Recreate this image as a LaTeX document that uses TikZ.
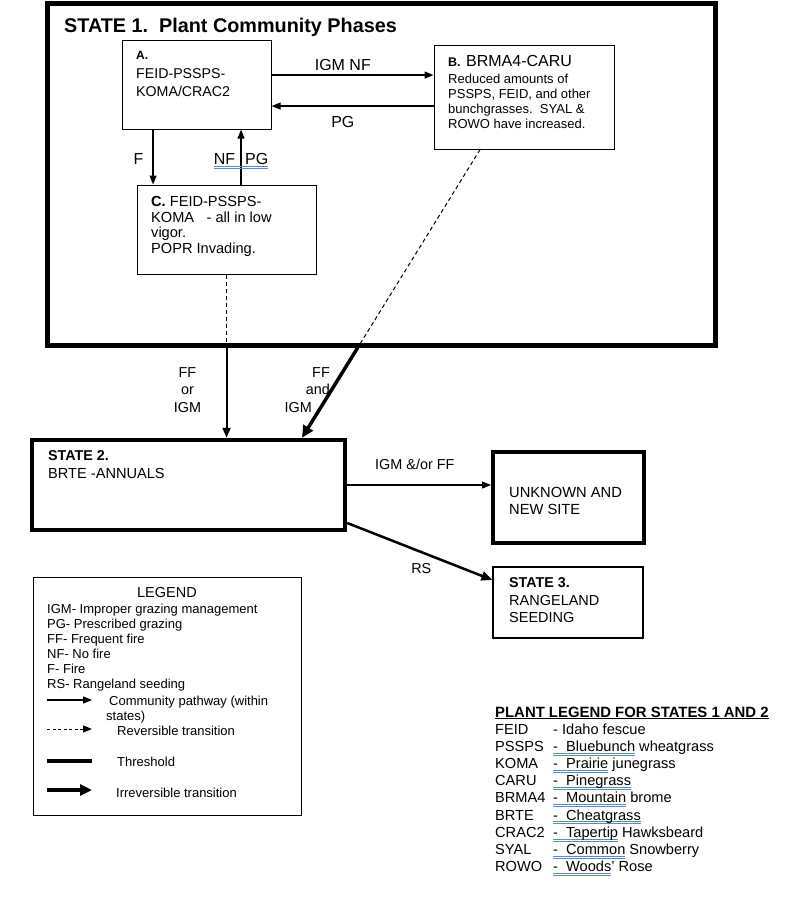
\documentclass[tikz,border=0pt]{standalone}
\usepackage{fontspec}
\setmainfont{Liberation Sans}
\usetikzlibrary{calc}
\usetikzlibrary{arrows.meta}

\definecolor{spellblue}{HTML}{5B8AC8}

% blue double mark under a word, and a plain underline
\newcommand{\spell}[1]{\setbox0=\hbox{#1}\rlap{\color{spellblue}\rule[-2pt]{\wd0}{0.6pt}}\rlap{\color{spellblue}\rule[-3.9pt]{\wd0}{0.6pt}}\box0\relax}
\newcommand{\titleline}[1]{\setbox0=\hbox{#1}\rlap{\rule[-2.4pt]{\wd0}{1.1pt}}\box0\relax}

\begin{document}
\begin{tikzpicture}[x=1pt, y=-1pt,
    phasebox/.style={draw, line width=1.1pt, inner sep=0pt, anchor=north west},
    boxtext/.style={anchor=north west, inner sep=0pt, align=left, font=\fontsize{14.2}{18.5}\selectfont},
    lbl/.style={inner sep=0pt, font=\fontsize{14.4}{17.5}\selectfont},
    biglbl/.style={inner sep=0pt, font=\fontsize{16}{18}\selectfont},
    legtext/.style={inner sep=0pt, align=left, font=\fontsize{13}{15.1}\selectfont},
    plantrow/.style={inner sep=0pt, anchor=base west, font=\fontsize{14.6}{17}\selectfont},
    pathway/.style={line width=1.2pt, -{Triangle[length=9pt, width=7pt]}},
    reversible/.style={line width=1pt, dash pattern=on 4pt off 3pt},
    irreversible/.style={line width=3.5pt, -{Triangle[length=12pt, width=11pt]}}
]
    \useasboundingbox (0,0) rectangle (800,898);

    % State 1 with its phases
    \node[phasebox, line width=5pt, minimum width=668pt, minimum height=342pt] (S1) at (44.5,0.5) {};
    \node[anchor=base west, inner sep=0pt, font=\bfseries\fontsize{19.8}{22}\selectfont] (S1title) at (64,32) {STATE 1.\ \ Plant Community Phases};

    \node[phasebox, minimum width=149pt, minimum height=89pt] (A) at (121.5,39.5) {};
    \node[boxtext] (Atext) at (136,51.4) {{\bfseries\fontsize{12}{14}\selectfont A.}\\FEID-PSSPS-\\KOMA/CRAC2};

    \node[phasebox, minimum width=180pt, minimum height=104pt] (B) at (433.5,44.5) {};
    \node[anchor=base west, inner sep=0pt, font=\fontsize{16}{18}\selectfont] (Bhead) at (448,66.7) {{\bfseries\fontsize{12.5}{14}\selectfont B.}\hspace{1pt} BRMA4-CARU};
    \node[boxtext, font=\fontsize{13}{15}\selectfont] (Bbody) at (448,73.7) {Reduced amounts of\\PSSPS, FEID, and other\\bunchgrasses.\ \ SYAL \&\\ROWO have increased.};

    \node[phasebox, minimum width=179pt, minimum height=89pt] (C) at (136.5,184.5) {};
    \node[boxtext, font=\fontsize{14.6}{15.5}\selectfont] (Ctext) at (151,196.5) {{\bfseries C.} FEID-PSSPS-\\KOMA\hspace*{12.5pt}- all in low\\vigor.\\POPR Invading.};

    % Pathways inside state 1
    \draw[pathway] ([yshift=9.5pt]A.east) -- ([yshift=9.5pt]A.east -| B.west) node[pos=.44, anchor=base, yshift=5pt, biglbl] {IGM NF};
    \draw[pathway] ([yshift=-21.5pt]A.east -| B.west) -- ([yshift=-21.5pt]A.east) node[pos=.56, anchor=base, yshift=-21pt, biglbl] {PG};
    \draw[pathway] ([xshift=-43.5pt]A.south) -- ([xshift=-43.5pt]A.south |- C.north) node[pos=.64, anchor=base east, xshift=-9pt, biglbl] {F};
    \draw[pathway] ([xshift=44.5pt]A.south |- C.north) -- ([xshift=44.5pt]A.south) node[pos=.36, anchor=base, biglbl] {\spell{NF\hspace{10pt}PG}};

    % State 2, unknown site, state 3
    \node[phasebox, line width=4.5pt, minimum width=313pt, minimum height=90pt] (S2) at (29.75,437.75) {};
    \node[boxtext, font=\fontsize{14.6}{18}\selectfont] (S2text) at (48,450.8) {{\bfseries\fontsize{14.3}{18}\selectfont STATE 2.}\\BRTE -ANNUALS};

    \node[phasebox, line width=4pt, minimum width=151pt, minimum height=91pt] (U) at (491,450) {};
    \node[boxtext, font=\fontsize{14.7}{17}\selectfont] (Utext) at (509,487.5) {UNKNOWN AND\\NEW SITE};

    \node[phasebox, line width=1.2pt, minimum width=150pt, minimum height=71pt] (S3) at (492.4,566.4) {};
    \node[boxtext, font=\fontsize{14.5}{17.5}\selectfont] (S3text) at (509,577.8) {{\bfseries\fontsize{14.3}{18}\selectfont STATE 3.}\\RANGELAND\\SEEDING};

    % Transitions out of state 1
    \coordinate (Cout) at (C.south |- S1.south);
    \draw[reversible] (C.south) -- (Cout);
    \draw[line width=2pt, -{Triangle[length=10pt, width=8pt]}] (Cout) -- (C.south |- S2.north) node[pos=.47, anchor=east, xshift=-24.5pt, align=center, lbl] {FF\\or\\IGM};

    \coordinate (Bout) at ([xshift=-44pt]B.south);
    \coordinate (S2in) at ([xshift=113.5pt]S2.north);
    \coordinate (S1cut) at (intersection of Bout--S2in and S1.south west--S1.south east);
    \draw[reversible] (Bout) -- (S1cut);
    \draw[irreversible] (S1cut) -- (S2in) node[pos=.47, anchor=east, align=right, lbl] {FF\\and\hspace*{8pt}\\IGM\hspace*{18pt}};

    % Transitions out of state 2
    \draw[pathway] (S2.east) -- (S2.east -| U.west) node[pos=.47, anchor=base, yshift=16pt, lbl] {IGM \&/or FF};
    \draw[line width=2.5pt, -{Triangle[length=11pt, width=9pt]}] ([yshift=-38pt]S2.east) -- ([yshift=22.5pt]S3.west) node[pos=.51, anchor=base, yshift=-21pt, lbl] {RS};

    % Legend
    \node[phasebox, line width=1pt, minimum width=268pt, minimum height=238pt] (L) at (32.5,576.5) {};
    \node[legtext, anchor=base, font=\fontsize{14.5}{16}\selectfont] (Ltitle) at (167,597) {LEGEND};
    \node[legtext, anchor=north west] (Litems) at (47,603.7) {IGM- Improper grazing management\\PG- Prescribed grazing\\FF- Frequent fire\\NF- No fire\\F- Fire\\RS- Rangeland seeding};

    \coordinate (l1a) at (47,700);
    \coordinate (l1b) at (92,700);
    \coordinate (l2a) at (47,729);
    \coordinate (l2b) at (92,729);
    \coordinate (l3a) at (47,761);
    \coordinate (l3b) at (92,761);
    \coordinate (l4a) at (47,790);
    \coordinate (l4b) at (92,790);
    \draw[pathway] (l1a) -- (l1b);
    \draw[line width=1pt, dash pattern=on 3pt off 2.5pt, -{Triangle[length=9pt, width=7pt]}] (l2a) -- (l2b);
    \draw[line width=4.5pt] (l3a) -- (l3b);
    \draw[irreversible] (l4a) -- (l4b);

    \node[legtext, anchor=north west] (Lpath) at (106,695.7) {\hspace*{3pt}Community pathway (within\\states)};
    \node[legtext, anchor=base west] (Lrev) at (117,735) {Reversible transition};
    \node[legtext, anchor=base west] (Lthr) at (117,766) {Threshold};
    \node[legtext, anchor=base west] (Lirr) at (116,797) {Irreversible transition};

    % Plant legend
    \node[plantrow, font=\bfseries\fontsize{14.9}{17}\selectfont] (Ptitle) at (495,717) {\titleline{PLANT LEGEND FOR STATES 1 AND 2}};
    \node[plantrow] (Pfeid) at (495,734) {\makebox[58pt][l]{FEID}- Idaho fescue};
    \node[plantrow] (Ppssps) at (495,751.2) {\makebox[58pt][l]{PSSPS}\spell{-\ \ Bluebunch} wheatgrass};
    \node[plantrow] (Pkoma) at (495,768.4) {\makebox[58pt][l]{KOMA}\spell{-\ \ Prairie} junegrass};
    \node[plantrow] (Pcaru) at (495,785.6) {\makebox[58pt][l]{CARU}\spell{-\ \ Pinegrass}};
    \node[plantrow] (Pbrma) at (495,802.8) {\makebox[58pt][l]{BRMA4}\spell{-\ \ Mountain} brome};
    \node[plantrow] (Pbrte) at (495,820) {\makebox[58pt][l]{BRTE}\spell{-\ \ Cheatgrass}};
    \node[plantrow] (Pcrac) at (495,837.2) {\makebox[58pt][l]{CRAC2}\spell{-\ \ Tapertip} Hawksbeard};
    \node[plantrow] (Psyal) at (495,854.4) {\makebox[58pt][l]{SYAL}\spell{-\ \ Common} Snowberry};
    \node[plantrow] (Prowo) at (495,871.6) {\makebox[58pt][l]{ROWO}\spell{-\ \ Woods}' Rose};

\end{tikzpicture}
\end{document}
